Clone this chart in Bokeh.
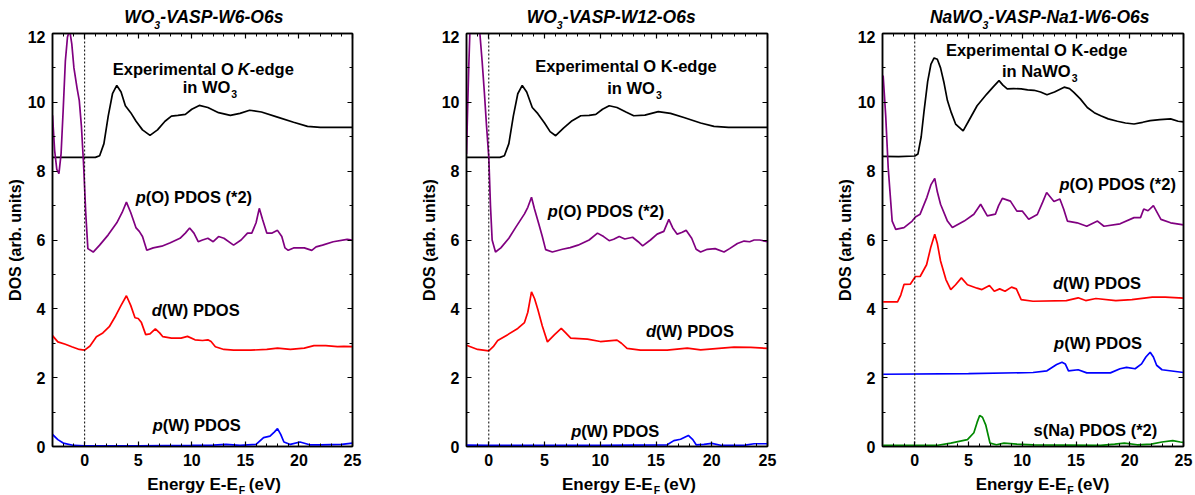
from bokeh.plotting import figure
from bokeh.layouts import row, column
from bokeh.models import Range1d, Label, Span, LinearAxis, SingleIntervalTicker, CustomJSTickFormatter
from bokeh.embed import file_html
from bokeh.resources import INLINE

FONT = "Liberation Sans"

# ---------------- Panel 1: WO3-VASP-W6-O6s ----------------
p1_exp_x = [-3, 1.0, 1.4, 1.8, 2.2, 2.6, 3.0, 3.4, 3.8, 4.3, 4.8, 5.4, 6.1, 6.8, 7.5, 8.1, 8.7, 9.4, 10.0, 10.7,
            11.5, 12.5, 13.6, 14.5, 15.4, 16.5, 18.0, 19.5, 20.8, 22, 23.5, 25]
p1_exp_y = [8.4, 8.4, 8.45, 8.8, 9.6, 10.25, 10.49, 10.3, 9.9, 9.7, 9.45, 9.2, 9.04, 9.2, 9.45, 9.6, 9.62, 9.65, 9.8, 9.91,
            9.85, 9.7, 9.62, 9.68, 9.77, 9.72, 9.57, 9.42, 9.3, 9.27, 9.27, 9.27]
p1_pO_x = [-3, -2.8, -2.6, -2.4, -2.2, -2.0, -1.8, -1.6, -1.4, -1.2, -1.0, -0.7, -0.5, -0.3, -0.1, 0.1, 0.3, 0.8, 1.4,
           2.2, 3.0, 3.5, 3.9, 4.3, 4.8, 5.1, 5.4, 5.8, 6.4, 7.2, 8.0, 8.9, 9.4, 9.8, 10.2, 10.6, 11.0, 11.5, 12.0,
           12.5, 13.0, 13.9, 14.6, 15.2, 15.6, 16.0, 16.3, 16.6, 17.0, 17.5, 18.0, 18.4, 18.7, 19.0, 19.5, 20.0, 20.5,
           21.2, 21.6, 22.2, 23.2, 24.5, 25]
p1_pO_y = [9.62, 8.6, 8.05, 7.93, 8.5, 9.8, 11.2, 11.9, 12.1, 11.7, 11.0, 10.4, 10.05, 9.3, 8.2, 6.8, 5.75, 5.65, 5.85,
           6.15, 6.5, 6.8, 7.1, 6.8, 6.35, 6.25, 6.1, 5.7, 5.77, 5.82, 5.92, 6.05, 6.2, 6.35, 6.2, 5.95, 6.0, 6.05, 5.95,
           6.1, 6.05, 5.85, 6.0, 6.2, 6.2, 6.5, 6.92, 6.6, 6.2, 6.2, 6.28, 6.1, 5.77, 5.7, 5.77, 5.77, 5.77,
           5.7, 5.8, 5.85, 5.95, 6.02, 6.0]
p1_dW_x = [-3, -2.5, -1.8, -1.2, -0.5, 0, 0.5, 1.1, 1.7, 2.3, 2.9, 3.4, 3.9, 4.3, 4.7, 5.0, 5.3, 5.7, 6.1, 6.6, 7.0, 7.3,
           8.1, 9.0, 9.6, 10.3, 11.0, 11.5, 11.8, 12.2, 13.0, 13.9, 15.5, 17.0, 18.0, 19.2, 20.5, 21.4, 22.5, 23.6, 24.2, 25]
p1_dW_y = [3.22, 3.04, 2.97, 2.9, 2.82, 2.8, 2.92, 3.19, 3.3, 3.48, 3.8, 4.1, 4.38, 4.1, 3.74, 3.72, 3.6, 3.25, 3.27, 3.42,
           3.3, 3.19, 3.15, 3.15, 3.2, 3.1, 3.08, 3.1, 3.05, 2.9, 2.82, 2.8, 2.8, 2.82, 2.86, 2.82, 2.86, 2.93, 2.93, 2.9,
           2.91, 2.9]
p1_pW_x = [-3, -2.5, -2, -1, 0, 5, 10, 12, 13.2, 14.5, 16, 16.7, 17.3, 17.7, 18.0, 18.3, 18.6, 19.2, 20.1, 21.0, 22,
           24, 25]
p1_pW_y = [0.35, 0.2, 0.1, 0.03, 0.02, 0.02, 0.03, 0.04, 0.06, 0.03, 0.06, 0.26, 0.3, 0.42, 0.52, 0.35, 0.13, 0.06, 0.13,
           0.05, 0.05, 0.06, 0.1]

# ---------------- Panel 2: WO3-VASP-W12-O6s ----------------
p2_exp_x = [-2, 1.0, 1.4, 1.8, 2.2, 2.6, 3.0, 3.4, 3.9, 4.4, 5.0, 5.5, 6.0, 6.7, 7.4, 8.25, 9.0, 9.6, 10.2, 10.8, 11.5,
            12.3, 13.0, 14.0, 15.2, 16.3, 17.5, 19.0, 20.2, 21.5, 23, 25]
p2_exp_y = [8.4, 8.4, 8.45, 8.8, 9.6, 10.25, 10.49, 10.3, 9.85, 9.67, 9.4, 9.15, 9.03, 9.25, 9.45, 9.61, 9.62, 9.65, 9.8,
            9.9, 9.85, 9.72, 9.61, 9.63, 9.73, 9.68, 9.56, 9.4, 9.3, 9.27, 9.27, 9.27]
p2_pO_x = [-2, -1.9, -1.8, -1.7, -1.5, -1.2, -1.0, -0.8, -0.6, -0.4, -0.2, 0, 0.15, 0.3, 0.6, 1.08, 1.8, 2.4, 3.2, 3.5,
           3.83, 4.1, 4.5, 4.8, 5.1, 5.7, 6.6, 7.3, 8.0, 9.0, 9.75, 10.3, 10.8, 11.2, 11.7, 12.2, 12.9, 13.4, 13.8,
           14.5, 15.1, 15.7, 16.15, 16.5, 16.9, 17.3, 17.7, 18.2, 18.6, 19.0, 19.6, 20.3, 21.1, 21.6, 22.3, 22.9, 23.4,
           23.8, 24.3, 25]
p2_pO_y = [8.5, 9.8, 11.0, 12.0, 13.5, 14.5, 14.0, 12.0, 11.2, 10.3, 9.3, 8.4, 7.0, 6.0, 5.65, 5.77, 6.05, 6.36, 6.76,
           6.95, 7.24, 6.9, 6.45, 6.1, 5.72, 5.65, 5.73, 5.78, 5.85, 6.0, 6.2, 6.1, 5.98, 6.02, 6.1, 6.03, 6.08, 5.95,
           5.83, 6.0, 6.17, 6.25, 6.6, 6.35, 6.17, 6.22, 6.28, 6.05, 5.73, 5.65, 5.73, 5.75, 5.65, 5.75, 5.9, 5.97,
           5.95, 6.0, 6.0, 5.95]
p2_dW_x = [-2, -1.0, 0, 0.4, 0.8, 1.7, 2.6, 3.2, 3.5, 3.83, 4.1, 4.4, 4.8, 5.26, 5.9, 6.5, 6.9, 7.35, 8.85, 10.0, 11.5,
           11.9, 12.4, 13.6, 16, 17.8, 19, 22, 23.5, 25]
p2_dW_y = [2.94, 2.82, 2.78, 2.9, 3.08, 3.25, 3.43, 3.6, 3.9, 4.49, 4.3, 3.98, 3.5, 3.04, 3.25, 3.43, 3.3, 3.15, 3.12,
           3.05, 3.09, 3.0, 2.85, 2.8, 2.8, 2.86, 2.81, 2.89, 2.88, 2.85]
p2_pW_x = [-2, 0, 5, 10, 13, 16, 16.6, 17.2, 17.9, 18.3, 18.6, 19.3, 20.0, 20.9, 23.0, 23.8, 25]
p2_pW_y = [0.04, 0.03, 0.03, 0.03, 0.04, 0.05, 0.17, 0.21, 0.32, 0.2, 0.05, 0.06, 0.09, 0.03, 0.04, 0.08, 0.08]

# ---------------- Panel 3: NaWO3-VASP-Na1-W6-O6s ----------------
p3_exp_x = [-3, -1.5, 0, 0.3, 0.6, 0.87, 1.2, 1.5, 1.8, 2.1, 2.4, 2.7, 3.04, 3.4, 3.8, 4.5, 5.0, 5.8, 6.7, 7.3, 7.84,
            8.2, 8.6, 9.2, 9.9, 10.5, 11.1, 11.7, 12.3, 13.0, 13.9, 14.4, 14.8, 15.4, 16.05, 16.7, 17.3, 18.0, 18.85,
            19.6, 20.4, 21.2, 21.9, 22.8, 23.8, 24.5, 25]
p3_exp_y = [8.43, 8.42, 8.44, 8.5, 9.0, 9.76, 10.6, 11.1, 11.29, 11.25, 11.0, 10.6, 10.05, 9.7, 9.37, 9.17, 9.45, 9.9,
            10.24, 10.45, 10.63, 10.5, 10.39, 10.4, 10.39, 10.36, 10.35, 10.3, 10.22, 10.3, 10.44, 10.4, 10.29, 10.1,
            9.85, 9.7, 9.61, 9.52, 9.45, 9.4, 9.37, 9.42, 9.47, 9.5, 9.52, 9.45, 9.43]
p3_pO_x = [-2.94, -2.7, -2.47, -2.1, -1.77, -1.0, -0.24, 0.06, 0.5, 1.13, 1.5, 1.86, 2.1, 2.4, 3.04, 3.5, 4.6, 5.5,
           6.13, 6.75, 7.5, 7.8, 8.15, 8.9, 9.5, 10.0, 10.6, 11.4, 11.9, 12.27, 12.95, 13.5, 13.85, 14.2, 15.1, 16.0,
           17.0, 17.6, 19.1, 20.4, 21.0, 21.3, 21.7, 22.2, 22.9, 23.8, 25]
p3_pO_y = [10.78, 9.6, 8.1, 6.55, 6.31, 6.36, 6.55, 6.67, 6.75, 7.24, 7.6, 7.79, 7.4, 7.04, 6.55, 6.36, 6.55, 6.75,
           7.04, 6.7, 6.75, 7.0, 7.21, 7.13, 6.84, 6.84, 6.6, 6.74, 7.1, 7.38, 7.12, 7.19, 6.9, 6.55, 6.5, 6.4,
           6.55, 6.4, 6.47, 6.65, 6.65, 6.9, 6.85, 7.0, 6.6, 6.5, 6.44]
p3_dW_x = [-2.94, -1.6, -1.3, -1.0, -0.4, 0.06, 0.5, 1.1, 1.5, 1.86, 2.1, 2.4, 2.9, 3.35, 3.8, 4.34, 4.9, 5.8, 6.25,
           6.95, 7.4, 7.9, 8.4, 9.0, 9.45, 9.9, 11.0, 14.1, 15.2, 15.9, 16.85, 18.7, 20.2, 22.1, 23.3, 25]
p3_dW_y = [4.2, 4.2, 4.4, 4.71, 4.72, 4.94, 4.94, 5.28, 5.8, 6.17, 5.9, 5.39, 4.85, 4.56, 4.7, 4.9, 4.7, 4.6, 4.56,
           4.68, 4.51, 4.58, 4.51, 4.63, 4.58, 4.27, 4.22, 4.24, 4.32, 4.24, 4.3, 4.24, 4.27, 4.34, 4.34, 4.31]
p3_pW_x = [-2.94, 5, 11, 12.3, 13.2, 13.7, 14.0, 14.3, 15.2, 16, 18.2, 19.1, 19.7, 20.5, 21.1, 21.5, 21.9, 22.2, 22.5,
           23, 25]
p3_pW_y = [2.1, 2.12, 2.15, 2.2, 2.38, 2.45, 2.4, 2.2, 2.23, 2.14, 2.14, 2.26, 2.3, 2.26, 2.4, 2.6, 2.74, 2.6, 2.36,
           2.23, 2.15]
p3_sNa_x = [-2.94, 2.0, 3.35, 4.9, 5.5, 5.8, 6.04, 6.3, 6.6, 7.0, 7.6, 8.3, 9.5, 11, 17.3, 18.6, 19.5, 20.7, 22, 23,
            24, 24.7, 25]
p3_sNa_y = [0.03, 0.03, 0.1, 0.2, 0.4, 0.7, 0.9, 0.85, 0.63, 0.1, 0.05, 0.1, 0.07, 0.05, 0.03, 0.07, 0.1, 0.05, 0.07,
            0.13, 0.17, 0.13, 0.12]

# axis tick settings
x_tick_interval = 5
y_tick_interval = 2

PURPLE = "#800080"
RED = "#FF0000"
BLUE = "#0000FF"
GREEN = "#008800"
BLACK = "#000000"

TITLE_H = 30
TOP_B = 3
FRAME_H = 413
BOT_B = 30
XLAB_H = 19

ANN = 16.5     # annotation font size (px)
TIT = 17.5     # title font size (px)
XLB = 17       # x-axis label font size (px)
SUB = 10.5     # subscript font size (px)


def lbl(p, x, y, text, size=ANN, style="bold", align="left", xo=0, yo=0):
    lift = 0.38 * size
    p.add_layout(Label(x=x, y=y, text=text, text_font=FONT, text_font_size=f"{size}px", text_font_style=style,
                       text_align=align, text_baseline="alphabetic", x_offset=xo, y_offset=yo + lift,
                       text_color="black"))


def strip_fig(xmin, fw, bl, br, height):
    f = figure(frame_width=fw, frame_height=height, x_range=Range1d(xmin, 25), y_range=Range1d(0, height),
               output_backend="svg", toolbar_location=None, x_axis_location=None, y_axis_location=None,
               min_border_left=bl, min_border_right=br, min_border_top=0, min_border_bottom=0)
    f.xgrid.visible = False
    f.ygrid.visible = False
    f.outline_line_color = None
    return f


def make_panel(xmin, fw, bl, br, title_parts, title_anchor, xlabel_anchor):
    p = figure(frame_width=fw, frame_height=FRAME_H, x_range=Range1d(xmin, 25), y_range=Range1d(0, 12),
               output_backend="svg", toolbar_location=None,
               min_border_left=bl, min_border_right=br, min_border_top=TOP_B, min_border_bottom=BOT_B)
    p.xgrid.visible = False
    p.ygrid.visible = False
    p.outline_line_color = "black"
    p.outline_line_width = 1.5

    bottom = p.below[0]
    left = p.left[0]
    bottom.ticker = SingleIntervalTicker(interval=x_tick_interval, num_minor_ticks=5)
    left.ticker = SingleIntervalTicker(interval=y_tick_interval, num_minor_ticks=2)
    blank = CustomJSTickFormatter(code="return '';")
    top = LinearAxis(ticker=SingleIntervalTicker(interval=x_tick_interval, num_minor_ticks=5), formatter=blank)
    right = LinearAxis(ticker=SingleIntervalTicker(interval=y_tick_interval, num_minor_ticks=2), formatter=blank)
    p.add_layout(top, "above")
    p.add_layout(right, "right")
    for ax in [bottom, left, top, right]:
        ax.major_tick_in = 5
        ax.major_tick_out = 0
        ax.minor_tick_in = 3
        ax.minor_tick_out = 0
        ax.axis_line_color = "black"
        ax.axis_line_width = 1.5
        ax.major_tick_line_width = 1.2
        ax.major_tick_line_color = "black"
        ax.minor_tick_line_color = "black"
        ax.major_label_text_font = FONT
        ax.major_label_text_font_style = "bold"
        ax.major_label_text_font_size = "16px"
        ax.major_label_text_color = "black"
        ax.major_label_standoff = 7
    for ax in [top, right]:
        ax.major_label_standoff = 0
        ax.major_label_text_font_size = "1px"

    left.axis_label = "DOS (arb. units)"
    left.axis_label_text_font = FONT
    left.axis_label_text_font_style = "bold"
    left.axis_label_text_font_size = "16px"
    left.axis_label_text_color = "black"
    left.axis_label_standoff = 1

    p.add_layout(Span(location=0, dimension="height", line_color="black", line_width=1, line_dash="2 2"))

    # title strip (with subscript)
    t = strip_fig(xmin, fw, bl, br, TITLE_H)
    a, sub, b = title_parts
    lbl(t, title_anchor, 7, a, size=TIT, style="bold italic", align="right")
    lbl(t, title_anchor, 2, sub, size=SUB, style="bold italic", align="left")
    lbl(t, title_anchor, 7, b, size=TIT, style="bold italic", align="left", xo=6)

    # x axis label strip (with subscript F)
    xl = strip_fig(xmin, fw, bl, br, XLAB_H)
    lbl(xl, xlabel_anchor, 5, "Energy E-E", size=XLB, align="right")
    lbl(xl, xlabel_anchor, 2, "F", size=SUB, align="left", xo=1)
    lbl(xl, xlabel_anchor, 5, "(eV)", size=XLB, align="left", xo=11)
    return p, t, xl


def curve(p, x, y, color):
    p.line(x, y, line_color=color, line_width=1.7)


# ---------- panel 1 ----------
p1, t1, x1 = make_panel(-3, 300, 52, 56, ("WO", "3", "-VASP-W6-O6s"), 6.5, 14.3)
curve(p1, p1_exp_x, p1_exp_y, BLACK)
curve(p1, p1_pO_x, p1_pO_y, PURPLE)
curve(p1, p1_dW_x, p1_dW_y, RED)
curve(p1, p1_pW_x, p1_pW_y, BLUE)
lbl(p1, 14.3, 10.78, "Experimental O", align="right", xo=-4)
lbl(p1, 14.3, 10.78, "K", style="bold italic", align="left")
lbl(p1, 14.3, 10.78, "-edge", align="left", xo=12)
lbl(p1, 13.6, 10.26, "in WO", align="right")
lbl(p1, 13.6, 10.26, "3", size=SUB, align="left", xo=1, yo=-5)
lbl(p1, 5.7, 7.07, "p", style="bold italic", align="right")
lbl(p1, 5.7, 7.07, "(O) PDOS (*2)", align="left")
lbl(p1, 7.2, 3.78, "d", style="bold italic", align="right")
lbl(p1, 7.2, 3.78, "(W) PDOS", align="left")
lbl(p1, 7.3, 0.44, "p", style="bold italic", align="right")
lbl(p1, 7.3, 0.44, "(W) PDOS", align="left")

# ---------- panel 2 ----------
p2, t2, x2 = make_panel(-2, 301, 58, 41, ("WO", "3", "-VASP-W12-O6s"), 6.1, 14.7)
curve(p2, p2_exp_x, p2_exp_y, BLACK)
curve(p2, p2_pO_x, p2_pO_y, PURPLE)
curve(p2, p2_dW_x, p2_dW_y, RED)
curve(p2, p2_pW_x, p2_pW_y, BLUE)
lbl(p2, 12.3, 10.87, "Experimental O K-edge", align="center")
lbl(p2, 14.9, 10.24, "in WO", align="right")
lbl(p2, 14.9, 10.24, "3", size=SUB, align="left", xo=1, yo=-5)
lbl(p2, 6.2, 6.65, "p", style="bold italic", align="right")
lbl(p2, 6.2, 6.65, "(O) PDOS (*2)", align="left")
lbl(p2, 15.0, 3.18, "d", style="bold italic", align="right")
lbl(p2, 15.0, 3.18, "(W) PDOS", align="left")
lbl(p2, 8.3, 0.27, "p", style="bold italic", align="right")
lbl(p2, 8.3, 0.27, "(W) PDOS", align="left")

# ---------- panel 3 ----------
p3, t3, x3 = make_panel(-3, 301, 74, 12, ("NaWO", "3", "-VASP-Na1-W6-O6s"), 6.3, 14.1)
curve(p3, p3_exp_x, p3_exp_y, BLACK)
curve(p3, p3_pO_x, p3_pO_y, PURPLE)
curve(p3, p3_dW_x, p3_dW_y, RED)
curve(p3, p3_pW_x, p3_pW_y, BLUE)
curve(p3, p3_sNa_x, p3_sNa_y, GREEN)
lbl(p3, 11.34, 11.34, "Experimental O K-edge", align="center")
lbl(p3, 14.5, 10.73, "in NaWO", align="right")
lbl(p3, 14.5, 10.73, "3", size=SUB, align="left", xo=1, yo=-5)
lbl(p3, 14.4, 7.45, "p", style="bold italic", align="right")
lbl(p3, 14.4, 7.45, "(O) PDOS (*2)", align="left")
lbl(p3, 13.8, 4.58, "d", style="bold italic", align="right")
lbl(p3, 13.8, 4.58, "(W) PDOS", align="left")
lbl(p3, 13.9, 2.82, "p", style="bold italic", align="right")
lbl(p3, 13.9, 2.82, "(W) PDOS", align="left")
lbl(p3, 16.8, 0.31, "s(Na) PDOS (*2)", align="center")

layout = row(column(t1, p1, x1), column(t2, p2, x2), column(t3, p3, x3))
open("out.html", "w").write(file_html(layout, INLINE))
